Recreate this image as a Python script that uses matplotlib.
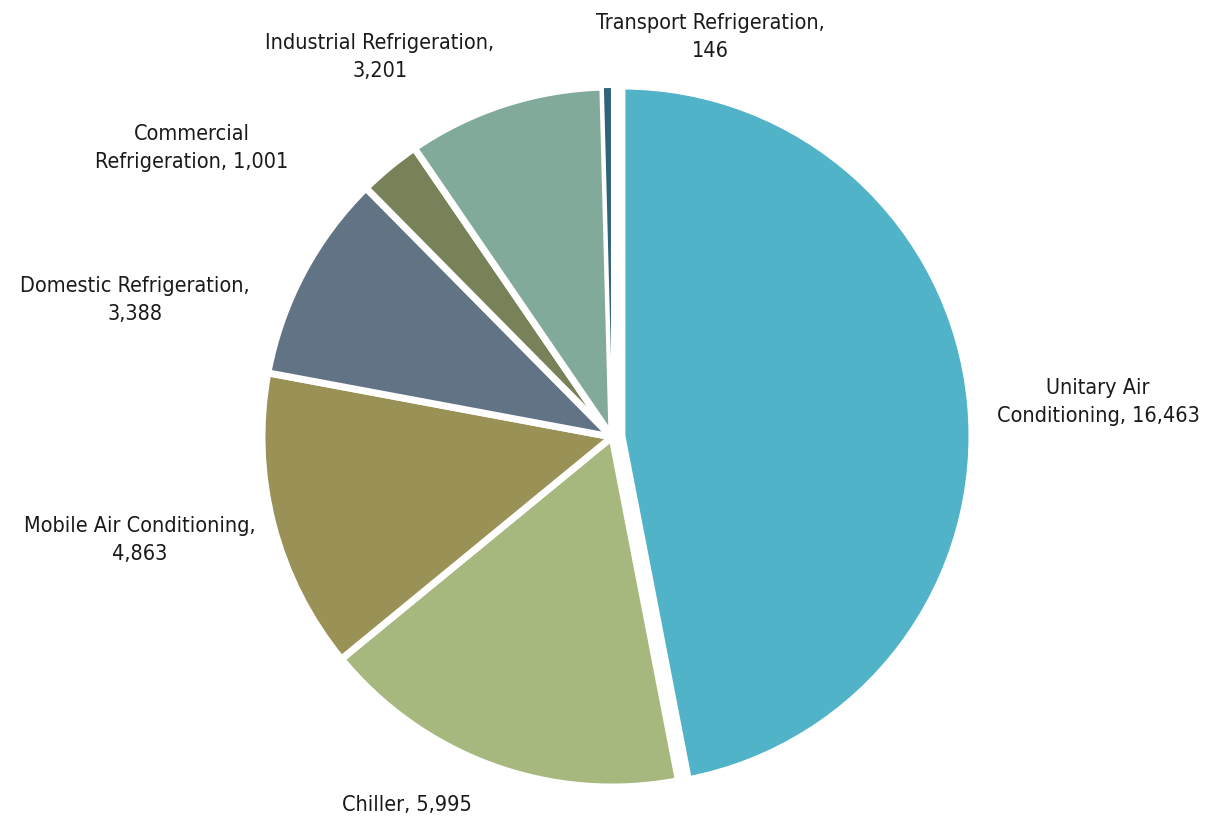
import matplotlib.pyplot as plt

# refrigerant bank by end-use sector
sectors = ["Unitary Air\nConditioning", "Chiller", "Mobile Air Conditioning",
           "Domestic Refrigeration", "Commercial\nRefrigeration", "Industrial Refrigeration",
           "Transport Refrigeration"]
values = [16463, 5995, 4863, 3388, 1001, 3201, 146]
colors = ["#50B3C8", "#A7B87F", "#9A9156", "#637386", "#778259", "#81AA9A", "#2E6378"]

W, H = 1208, 823
R = 350
# pull the biggest wedge out a little (explode is in data units here)
explode = [10, 0, 0, 0, 0, 0, 0]

fig = plt.figure(figsize=(W / 100, H / 100), dpi=100)
ax = fig.add_axes([0, 0, 1, 1])

wedges, _ = ax.pie(values, colors=colors, explode=explode, startangle=90,
                   counterclock=False, center=(612, H - 437), radius=R, frame=True,
                   wedgeprops=dict(edgecolor="white", linewidth=5))
# the tiny transport sliver would vanish under a thick edge
wedges[-1].set_linewidth(1.5)
ax.set_xlim(0, W)
ax.set_ylim(0, H)
ax.set_aspect("equal")
ax.axis("off")

# label text, placed around the pie
label_pos = [(1098, 402), (407, 805), (140, 540), (135, 300),
             (192, 148), (380, 57), (710, 37)]
for i, (name, v) in enumerate(zip(sectors, values)):
    x, y = label_pos[i]
    if "\n" in name or i == 1:
        txt = f"{name}, {v:,}"
    else:
        txt = f"{name},\n{v:,}"
    ax.text(x, H - y, txt, ha="center", va="center", fontsize=15.5,
            family="DejaVu Sans", stretch="condensed", color="#1a1a1a",
            linespacing=1.45, multialignment="center")

fig.savefig("out.png", dpi=100)
